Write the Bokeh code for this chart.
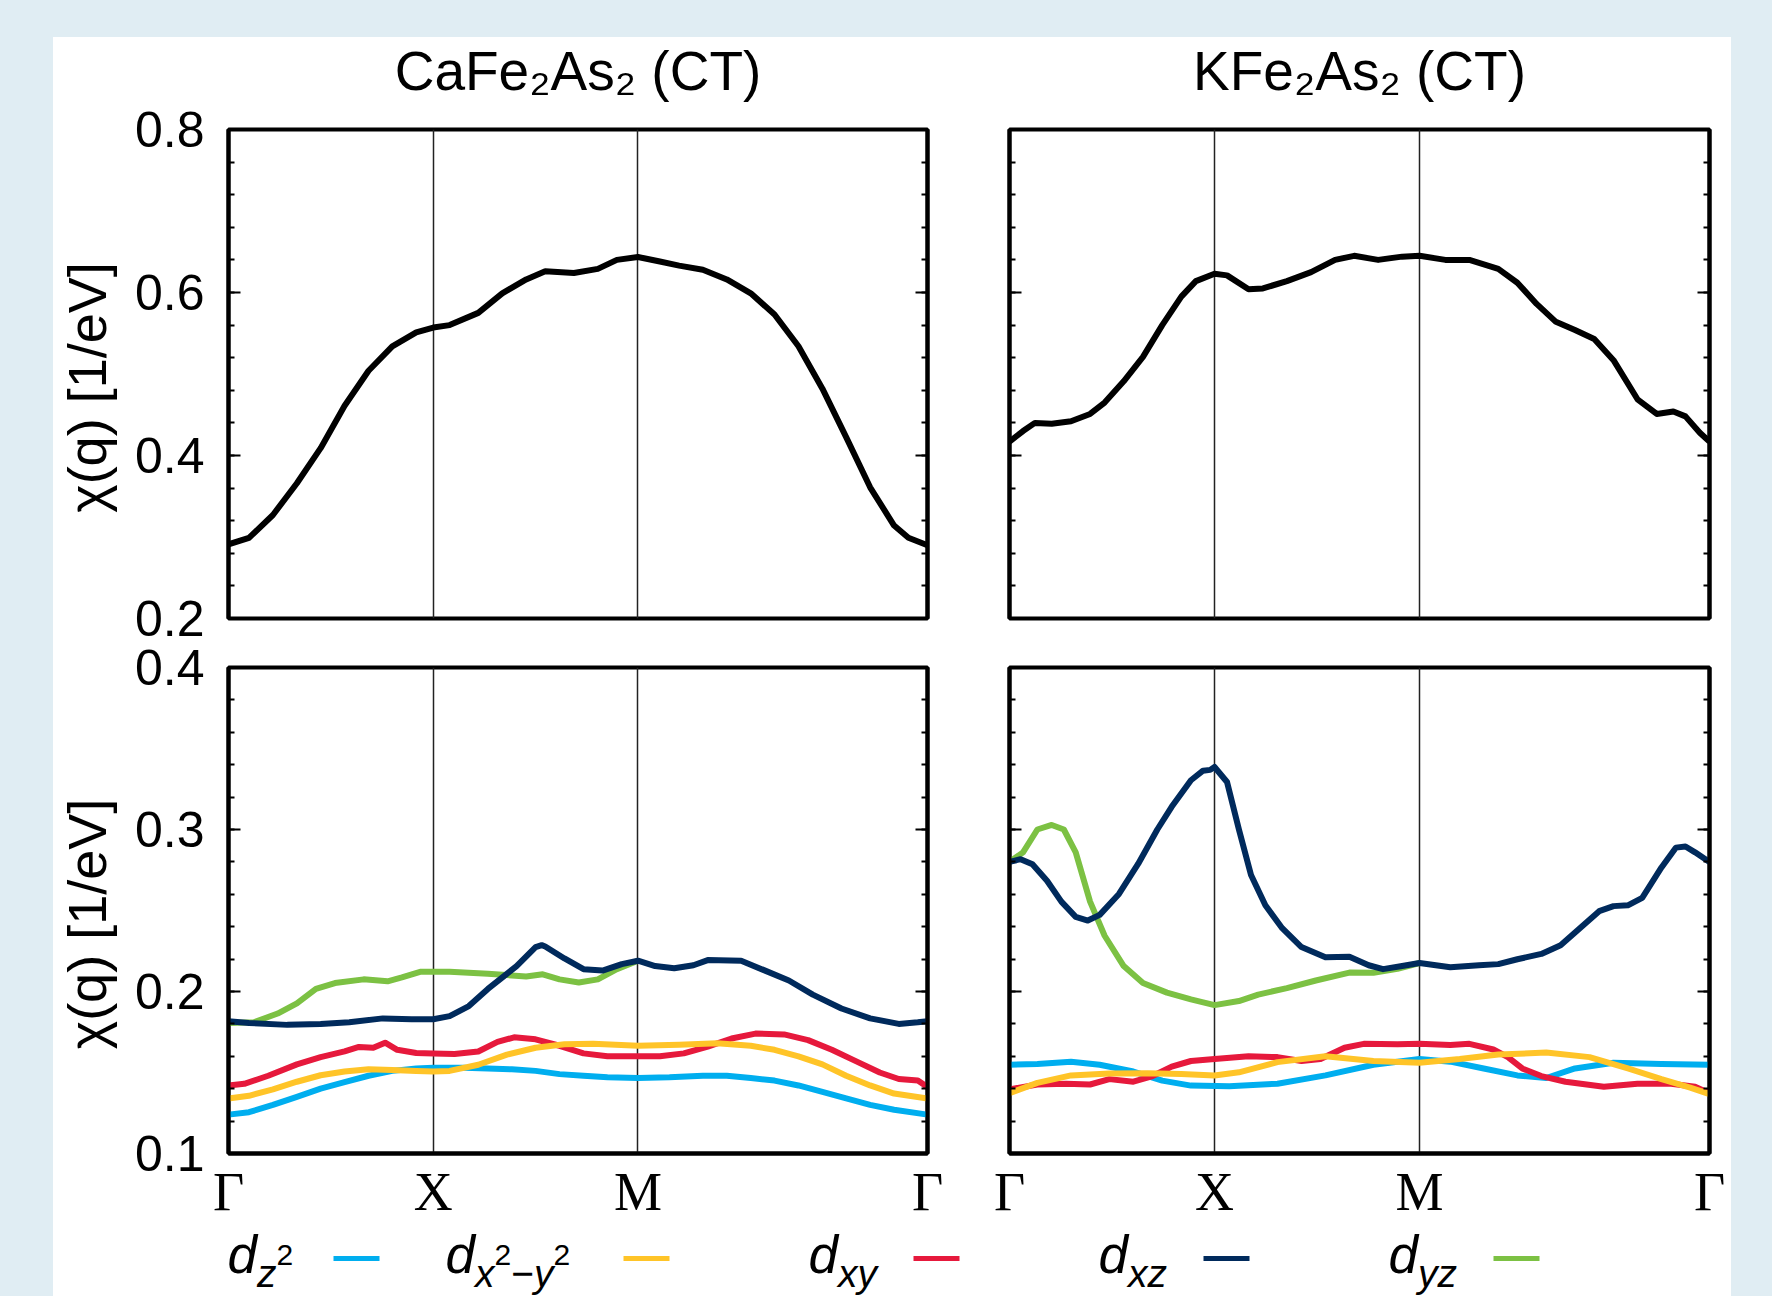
import math
from bokeh.plotting import figure
from bokeh.models import (Range1d, LinearAxis, FixedTicker, Grid, Label, BoxAnnotation,
                          CustomJSTickFormatter, Spacer)
from bokeh.layouts import row, column
from bokeh.embed import file_html
from bokeh.resources import INLINE

# ---------------- data ----------------
GAMMA_END = 2 + math.sqrt(2)
PATH_TICKS = [0.0, 1.0, 2.0, GAMMA_END]
PATH_LABELS = ["Γ", "X", "M", "Γ"]

Y_TOP_MAJOR = [0.2, 0.4, 0.6, 0.8]
Y_TOP_MINOR = [0.2, 0.24, 0.28, 0.32, 0.36, 0.4, 0.44, 0.48, 0.52, 0.56, 0.6, 0.64, 0.68, 0.72, 0.76, 0.8]
Y_BOT_MAJOR = [0.1, 0.2, 0.3, 0.4]
Y_BOT_MINOR = [0.1, 0.12, 0.14, 0.16, 0.18, 0.2, 0.22, 0.24, 0.26, 0.28, 0.3, 0.32, 0.34, 0.36, 0.38, 0.4]

TITLE_LEFT = "CaFe₂As₂ (CT)"
TITLE_RIGHT = "KFe₂As₂ (CT)"
Y_LABEL = "χ(q) [1/eV]\u2002"

# CaFe2As2 total chi(q)
CA_TOT_X = [0, 0.100, 0.217, 0.334, 0.450, 0.567, 0.684, 0.800, 0.917, 1.0, 1.080, 1.220, 1.337,
            1.454, 1.547, 1.687, 1.804, 1.897, 2.0, 2.107, 2.201, 2.317, 2.434, 2.551, 2.667, 2.784,
            2.901, 3.018, 3.134, 3.251, 3.321, 3.414]
CA_TOT_Y = [0.291, 0.299, 0.327, 0.366, 0.409, 0.461, 0.504, 0.534, 0.551, 0.557, 0.560, 0.575, 0.599,
            0.616, 0.626, 0.624, 0.629, 0.640, 0.6435, 0.638, 0.633, 0.628, 0.616, 0.599, 0.573, 0.534,
            0.482, 0.422, 0.361, 0.314, 0.299, 0.290]

# KFe2As2 total chi(q)
K_TOT_X = [0, 0.066, 0.124, 0.206, 0.300, 0.393, 0.464, 0.557, 0.651, 0.745, 0.838, 0.909, 1.0, 1.061,
           1.166, 1.236, 1.353, 1.471, 1.588, 1.681, 1.798, 1.915, 2.0, 2.126, 2.243, 2.384, 2.477,
           2.571, 2.665, 2.758, 2.852, 2.946, 3.063, 3.157, 3.238, 3.297, 3.367, 3.414]
K_TOT_Y = [0.417, 0.430, 0.440, 0.439, 0.442, 0.451, 0.465, 0.491, 0.521, 0.560, 0.595, 0.614, 0.623, 0.621,
           0.604, 0.605, 0.614, 0.625, 0.640, 0.645, 0.640, 0.644, 0.645, 0.640, 0.640, 0.629, 0.612,
           0.586, 0.564, 0.554, 0.543, 0.517, 0.469, 0.451, 0.454, 0.448, 0.428, 0.417]

# CaFe2As2 orbital-resolved
CA_DZ2_X = [0, 0.100, 0.217, 0.334, 0.450, 0.567, 0.684, 0.800, 0.917, 1.0, 1.150, 1.267, 1.384, 1.500,
            1.617, 1.734, 1.851, 2.0, 2.154, 2.317, 2.434, 2.551, 2.667, 2.784, 2.901, 3.017, 3.134,
            3.251, 3.414]
CA_DZ2_Y = [0.124, 0.1255, 0.130, 0.135, 0.140, 0.144, 0.148, 0.151, 0.1525, 0.153, 0.153, 0.1525, 0.152,
            0.151, 0.149, 0.148, 0.147, 0.1466, 0.147, 0.148, 0.148, 0.1466, 0.145, 0.142, 0.138, 0.134,
            0.130, 0.127, 0.124]
CA_DX2Y2_X = [0, 0.100, 0.217, 0.334, 0.450, 0.567, 0.684, 0.800, 0.917, 1.0, 1.080, 1.220, 1.360, 1.500,
              1.641, 1.781, 2.0, 2.201, 2.387, 2.551, 2.667, 2.784, 2.901, 3.017, 3.134, 3.251, 3.414]
CA_DX2Y2_Y = [0.134, 0.1356, 0.1396, 0.1443, 0.1483, 0.1506, 0.152, 0.1515, 0.151, 0.1506, 0.151, 0.1548,
              0.161, 0.1653, 0.1674, 0.1677, 0.1665, 0.1672, 0.168, 0.1665, 0.164, 0.160, 0.155, 0.148,
              0.142, 0.137, 0.134]
CA_DXY_X = [0, 0.077, 0.194, 0.334, 0.450, 0.567, 0.637, 0.707, 0.765, 0.824, 0.917, 1.0, 1.104, 1.220,
            1.314, 1.395, 1.500, 1.617, 1.734, 1.851, 2.0, 2.107, 2.224, 2.341, 2.457, 2.574, 2.714,
            2.831, 2.947, 3.064, 3.181, 3.274, 3.367, 3.414]
CA_DXY_Y = [0.142, 0.143, 0.148, 0.155, 0.1595, 0.163, 0.1658, 0.1653, 0.1684, 0.164, 0.162, 0.1618,
            0.1614, 0.163, 0.1689, 0.1717, 0.1705, 0.1665, 0.1618, 0.160, 0.160, 0.160, 0.1618, 0.166,
            0.171, 0.174, 0.1735, 0.170, 0.164, 0.157, 0.150, 0.146, 0.145, 0.141]
CA_DXZ_X = [0, 0.100, 0.287, 0.450, 0.590, 0.754, 0.894, 1.0, 1.080, 1.174, 1.267, 1.407, 1.500, 1.530,
            1.547, 1.641, 1.734, 1.827, 1.921, 2.0, 2.084, 2.177, 2.271, 2.341, 2.504, 2.621, 2.737,
            2.854, 2.994, 3.134, 3.274, 3.367, 3.414]
CA_DXZ_Y = [0.1817, 0.1806, 0.1794, 0.1799, 0.181, 0.1834, 0.1829, 0.1829, 0.1848, 0.191, 0.2016, 0.2157,
            0.2274, 0.2286, 0.2278, 0.2204, 0.2138, 0.2129, 0.2169, 0.219, 0.2157, 0.2143, 0.2162, 0.2194,
            0.219, 0.2129, 0.2068, 0.1981, 0.1895, 0.1834, 0.180, 0.181, 0.1817]
CA_DYZ_X = [0, 0.124, 0.240, 0.334, 0.427, 0.520, 0.660, 0.777, 0.847, 0.940, 1.080, 1.267, 1.454, 1.535,
            1.617, 1.711, 1.804, 1.897, 2.0]
CA_DYZ_Y = [0.1806, 0.181, 0.1864, 0.1927, 0.2016, 0.2052, 0.2075, 0.2063, 0.2087, 0.2122, 0.2122, 0.211,
            0.2092, 0.2106, 0.2075, 0.2056, 0.2075, 0.2138, 0.219]

# KFe2As2 orbital-resolved
K_DZ2_X = [0, 0.136, 0.300, 0.440, 0.604, 0.745, 0.885, 1.072, 1.307, 1.541, 1.775, 2.0, 2.150, 2.313,
           2.477, 2.618, 2.758, 2.946, 3.180, 3.414]
K_DZ2_Y = [0.1548, 0.1553, 0.1567, 0.1548, 0.1506, 0.145, 0.1419, 0.1415, 0.1431, 0.1482, 0.1548, 0.1583,
           0.1567, 0.1525, 0.1482, 0.1466, 0.1525, 0.156, 0.1553, 0.1548]
K_DX2Y2_X = [0, 0.136, 0.300, 0.487, 0.674, 0.838, 1.0, 1.119, 1.307, 1.541, 1.775, 2.0, 2.196, 2.384,
             2.618, 2.829, 3.016, 3.180, 3.320, 3.414]
K_DX2Y2_Y = [0.1372, 0.1436, 0.1482, 0.1494, 0.1496, 0.149, 0.1482, 0.1501, 0.1564, 0.160, 0.1571, 0.156,
             0.1583, 0.1611, 0.1623, 0.1595, 0.1525, 0.1459, 0.1407, 0.1367]
K_DXY_X = [0, 0.136, 0.276, 0.393, 0.487, 0.604, 0.698, 0.791, 0.885, 1.0, 1.166, 1.307, 1.424, 1.517,
           1.634, 1.728, 1.892, 2.0, 2.150, 2.243, 2.360, 2.431, 2.501, 2.594, 2.712, 2.899, 3.063,
           3.227, 3.344, 3.414]
K_DXY_Y = [0.1396, 0.1426, 0.1431, 0.1426, 0.1459, 0.1443, 0.1478, 0.1536, 0.1571, 0.1583, 0.160, 0.1595,
           0.1571, 0.1583, 0.1653, 0.1677, 0.1674, 0.1677, 0.167, 0.1677, 0.1642, 0.1595, 0.1525, 0.1478,
           0.1443, 0.1412, 0.1431, 0.1431, 0.1412, 0.1372]
K_DXZ_X = [0, 0.054, 0.112, 0.183, 0.253, 0.323, 0.382, 0.440, 0.534, 0.628, 0.721, 0.791, 0.885, 0.944,
           0.979, 1.0, 1.061, 1.119, 1.178, 1.248, 1.330, 1.424, 1.541, 1.658, 1.752, 1.822, 1.915, 2.0,
           2.150, 2.290, 2.384, 2.477, 2.594, 2.688, 2.782, 2.876, 2.946, 3.016, 3.086, 3.180, 3.250,
           3.297, 3.344, 3.414]
K_DXZ_Y = [0.280, 0.2817, 0.2785, 0.2684, 0.2555, 0.2461, 0.2438, 0.2473, 0.2602, 0.2789, 0.300, 0.314,
           0.3304, 0.3363, 0.3368, 0.3386, 0.3293, 0.300, 0.2719, 0.2532, 0.2391, 0.2274, 0.2211, 0.2215,
           0.2162, 0.2138, 0.2157, 0.2176, 0.215, 0.2162, 0.2169, 0.2199, 0.2232, 0.2286, 0.2391, 0.2496,
           0.2527, 0.2532, 0.2578, 0.2766, 0.2888, 0.2895, 0.2859, 0.280]
K_DYZ_X = [0, 0.066, 0.136, 0.206, 0.265, 0.323, 0.393, 0.464, 0.557, 0.651, 0.768, 0.885, 1.0, 1.119,
           1.213, 1.353, 1.494, 1.658, 1.775, 1.892, 2.0]
K_DYZ_Y = [0.280, 0.2859, 0.300, 0.3028, 0.300, 0.2859, 0.2555, 0.2344, 0.2157, 0.2052, 0.1993, 0.1951,
           0.1916, 0.1941, 0.1981, 0.2021, 0.2068, 0.2117, 0.2115, 0.214, 0.2176]

# legend: subscript pieces per orbital: (text, role)
LEGEND_NAMES = [
    [("z", "sub"), ("2", "sup")],
    [("x", "sub"), ("2", "sup"), ("−", "subn"), ("y", "sub"), ("2", "sup")],
    [("xy", "sub")],
    [("xz", "sub")],
    [("yz", "sub")],
]

# ---------------- style ----------------
BG = "#e0edf3"
TOP_BAND = 37
C_DZ2 = "#00aeef"
C_DX2Y2 = "#ffc428"
C_DXY = "#e6193c"
C_DXZ = "#002a5c"
C_DYZ = "#7cc143"
SANS = "Liberation Sans"
SERIF = "Liberation Serif"
LW = 6

ADV = {' ': 278, '(': 333, ')': 333, '[': 278, ']': 278, '/': 278, '1': 556, '2': 556, 'e': 556,
       'V': 667, 'C': 722, 'a': 556, 'F': 611, 'A': 667, 's': 500, 'T': 611, 'K': 667, 'd': 556,
       'x': 500, 'y': 500, 'z': 500, 'q': 556, 'χ': 500, '−': 584}
MID = 0.3465  # em-box middle above the baseline (Liberation Sans)


def tw(s, size):
    return sum(ADV.get(c, 556) for c in s) * size / 1000.0


def panel(width, height, bl, br, bt, bb, yr, major, minor, show_y_labels, show_x_labels, clear_border):
    p = figure(width=width, height=height, x_range=Range1d(0, GAMMA_END), y_range=Range1d(*yr),
               x_axis_type=None, y_axis_type=None, toolbar_location=None, output_backend="svg",
               min_border_left=bl, min_border_right=br, min_border_top=bt, min_border_bottom=bb)
    p.background_fill_color = "white"
    if clear_border:
        p.border_fill_alpha = 0
    else:
        p.border_fill_color = "white"
    p.outline_line_color = "black"
    p.outline_line_width = 4
    p.add_layout(Grid(dimension=0, ticker=FixedTicker(ticks=PATH_TICKS[1:3]),
                      grid_line_color="#222222", grid_line_width=1.5))
    for side in ("left", "right"):
        labeled = show_y_labels and side == "left"
        ax = LinearAxis(ticker=FixedTicker(ticks=major, minor_ticks=minor),
                        axis_line_color="black", axis_line_width=4,
                        major_tick_in=12, major_tick_out=0, minor_tick_in=6, minor_tick_out=0,
                        major_tick_line_width=2, minor_tick_line_width=2,
                        major_tick_line_color="black", minor_tick_line_color="black",
                        major_label_text_font=SANS, major_label_text_font_size="50px",
                        major_label_text_color="black",
                        major_label_standoff=24 if labeled else 0)
        if labeled:
            ax.axis_label = Y_LABEL
            ax.axis_label_text_font = SANS
            ax.axis_label_text_font_size = "54px"
            ax.axis_label_text_font_style = "normal"
            ax.axis_label_text_color = "black"
            ax.axis_label_standoff = 15
        else:
            ax.formatter = CustomJSTickFormatter(code="return '';")
        p.add_layout(ax, side)
    if show_x_labels:
        code = ("let b = 0; for (let i = 0; i < pos.length; i++) {"
                " if (Math.abs(pos[i] - tick) < Math.abs(pos[b] - tick)) b = i; }"
                " return names[b];")
        xa = LinearAxis(ticker=FixedTicker(ticks=PATH_TICKS),
                        formatter=CustomJSTickFormatter(args=dict(pos=PATH_TICKS, names=PATH_LABELS), code=code),
                        major_tick_in=0, major_tick_out=0, axis_line_color="black", axis_line_width=4,
                        major_label_text_font=SERIF, major_label_text_font_size="54px",
                        major_label_text_color="black", major_label_standoff=8)
        p.add_layout(xa, "below")
    return p


def set_title(p, text):
    p.title.text = text
    p.title.align = "center"
    p.title.text_font = SANS
    p.title.text_font_size = "55px"
    p.title.text_font_style = "normal"
    p.title.text_color = "black"
    p.title.standoff = 56


# ---------------- panels ----------------
tl = panel(915, 642, 174, 41, 129, 24, (0.2, 0.8), Y_TOP_MAJOR, Y_TOP_MINOR, True, False, True)
tr = panel(763, 642, 41, 22, 129, 24, (0.2, 0.8), Y_TOP_MAJOR, Y_TOP_MINOR, False, False, True)
bl = panel(915, 582, 174, 41, 25, 68, (0.1, 0.4), Y_BOT_MAJOR, Y_BOT_MINOR, True, True, False)
br = panel(763, 582, 41, 22, 25, 68, (0.1, 0.4), Y_BOT_MAJOR, Y_BOT_MINOR, False, True, False)
set_title(tl, TITLE_LEFT)
set_title(tr, TITLE_RIGHT)

tl.line(CA_TOT_X, CA_TOT_Y, line_color="black", line_width=LW, line_join="round")
tr.line(K_TOT_X, K_TOT_Y, line_color="black", line_width=LW, line_join="round")

for fig, series in (
    (bl, [(CA_DZ2_X, CA_DZ2_Y, C_DZ2), (CA_DXY_X, CA_DXY_Y, C_DXY), (CA_DX2Y2_X, CA_DX2Y2_Y, C_DX2Y2),
          (CA_DYZ_X, CA_DYZ_Y, C_DYZ), (CA_DXZ_X, CA_DXZ_Y, C_DXZ)]),
    (br, [(K_DZ2_X, K_DZ2_Y, C_DZ2), (K_DXY_X, K_DXY_Y, C_DXY), (K_DX2Y2_X, K_DX2Y2_Y, C_DX2Y2),
          (K_DYZ_X, K_DYZ_Y, C_DYZ), (K_DXZ_X, K_DXZ_Y, C_DXZ)]),
):
    for xs, ys, c in series:
        fig.line(xs, ys, line_color=c, line_width=LW, line_join="round")

# ---------------- legend strip ----------------
leg = figure(width=1678, height=72, x_range=Range1d(0, 1), y_range=Range1d(0, 1),
             x_axis_type=None, y_axis_type=None, toolbar_location=None, output_backend="svg",
             min_border=0, min_border_left=0, min_border_right=0, min_border_top=0, min_border_bottom=0)
leg.outline_line_color = None
leg.background_fill_color = "white"
leg.border_fill_color = "white"

key_colors = [C_DZ2, C_DX2Y2, C_DXY, C_DXZ, C_DYZ]
d_starts = [174, 392, 755, 1045, 1335]
key_left = 280
key_pitch = 290
key_len = 46
key_mid = 38
base = 24

for i, c in enumerate(key_colors):
    x0 = key_left + i * key_pitch
    leg.add_layout(BoxAnnotation(left=x0, right=x0 + key_len, bottom=key_mid - 2.5, top=key_mid + 2.5,
                                 left_units="screen", right_units="screen",
                                 bottom_units="screen", top_units="screen",
                                 fill_color=c, fill_alpha=1.0, line_alpha=0))

for x0, pieces in zip(d_starts, LEGEND_NAMES):
    leg.add_layout(Label(x=x0, y=base + MID * 53, x_units="screen", y_units="screen", text="d",
                         text_font=SANS, text_font_size="53px", text_font_style="italic",
                         text_color="black", text_align="left", text_baseline="middle"))
    cx = x0 + tw("d", 53)
    for t, role in pieces:
        if role == "sup":
            size, dy, st = 30, 7, "normal"
        elif role == "subn":
            size, dy, st = 39, -15, "normal"
        else:
            size, dy, st = 39, -15, "italic"
        leg.add_layout(Label(x=cx, y=base + dy + MID * size, x_units="screen", y_units="screen", text=t,
                             text_font=SANS, text_font_size=f"{size}px", text_font_style=st,
                             text_color="black", text_align="left", text_baseline="middle"))
        cx += tw(t, size)

# ---------------- page ----------------
band = (f"linear-gradient(to bottom, {BG} 0px, {BG} {TOP_BAND}px, "
        f"#ffffff {TOP_BAND}px, #ffffff 100%)")
body = column(row(tl, tr, styles={"background-image": band}),
              row(bl, br, styles={"background-color": "white"}),
              leg, styles={"background-image": band, "background-color": "white"})
page = row(Spacer(width=53, height=1296, styles={"background-color": BG}), body,
           Spacer(width=41, height=1296, styles={"background-color": BG}),
           styles={"background-color": BG})

open("out.html", "w").write(file_html(page, INLINE, "chi(q)"))
